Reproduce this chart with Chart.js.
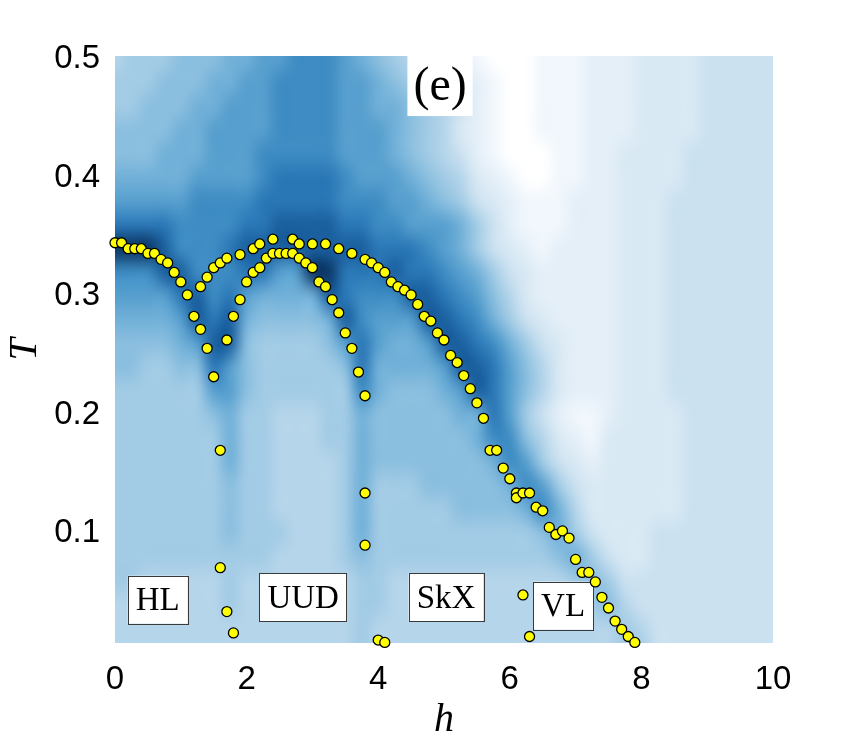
<!DOCTYPE html>
<html>
<head>
<meta charset="utf-8">
<script src="https://cdn.jsdelivr.net/npm/chart.js@4.4.1/dist/chart.umd.min.js"></script>
<style>
  body { margin: 0; background: #fff; }
  canvas { display: block; }
</style>
</head>
<body>
<canvas id="phaseChart" width="854" height="750"></canvas>
<script>
// Phase boundary points (h, T)
const hlH = [0, 0.1, 0.2, 0.3, 0.4, 0.5, 0.6, 0.7, 0.8, 0.9, 1.0, 1.1, 1.2, 1.3, 1.4, 1.5, 1.6, 1.6, 1.7, 1.8];
const hlT = [0.345, 0.345, 0.340, 0.340, 0.340, 0.336, 0.336, 0.331, 0.328, 0.320, 0.312, 0.301, 0.283, 0.272, 0.256, 0.232, 0.170, 0.071, 0.034, 0.016];

const outerH = [1.3, 1.4, 1.5, 1.6, 1.7, 1.9, 2.1, 2.2, 2.4, 2.7, 2.8, 3.0, 3.2, 3.4, 3.6, 3.8, 3.9, 4.0, 4.1, 4.2,
                4.3, 4.4, 4.5, 4.6, 4.7, 4.8, 4.9, 5.0, 5.1, 5.2, 5.3, 5.4, 5.5, 5.6, 5.7, 5.8, 5.9, 6.0, 6.1, 6.1,
                6.2, 6.3, 6.4, 6.5, 6.6, 6.7, 6.8, 6.9, 7.0, 7.1, 7.2, 7.3, 7.4, 7.5, 7.6, 7.7, 7.8, 7.9];
const outerT = [0.308, 0.316, 0.324, 0.328, 0.332, 0.335, 0.340, 0.344, 0.348, 0.348, 0.344, 0.344, 0.344, 0.340, 0.336, 0.331, 0.328, 0.324, 0.320, 0.312,
                0.308, 0.305, 0.301, 0.293, 0.283, 0.279, 0.269, 0.263, 0.250, 0.244, 0.233, 0.222, 0.210, 0.197, 0.170, 0.170, 0.155, 0.146, 0.134, 0.130,
                0.134, 0.134, 0.122, 0.119, 0.105, 0.099, 0.102, 0.096, 0.078, 0.067, 0.067, 0.059, 0.046, 0.037, 0.026, 0.019, 0.013, 0.008];

const innerH = [1.7, 1.8, 1.9, 2.0, 2.1, 2.2, 2.3, 2.4, 2.5, 2.6, 2.7, 2.8, 2.9, 3.0, 3.1, 3.2, 3.3, 3.4, 3.5, 3.6, 3.7, 3.8, 3.8, 3.8, 4.0, 4.1];
const innerT = [0.263, 0.283, 0.297, 0.312, 0.320, 0.324, 0.332, 0.336, 0.336, 0.336, 0.336, 0.332, 0.328, 0.324, 0.312, 0.308, 0.297, 0.286, 0.269, 0.256, 0.236, 0.216, 0.134, 0.090, 0.010, 0.008];

const vlH = [6.2, 6.3];
const vlT = [0.048, 0.013];

// Axis ticks
const xTicks = [0, 2, 4, 6, 8, 10];
const yTicks = [0.1, 0.2, 0.3, 0.4, 0.5];

// Phase labels
const phaseNames = ["HL", "UUD", "SkX", "VL"];
const phaseH = [0.65, 2.86, 5.03, 6.81];
const phaseT = [0.044, 0.046, 0.046, 0.039];
const panelTag = "(e)";

// Background intensity map (levels 0-d), rows from T=0.50 down to T=0.00
const hCols = [0, 0.25, 0.5, 0.75, 1, 1.25, 1.5, 1.75, 2, 2.25, 2.5, 2.75, 3, 3.25, 3.5, 3.75, 4, 4.25, 4.5, 4.75,
               5, 5.25, 5.5, 5.75, 6, 6.25, 6.5, 6.75, 7, 7.25, 7.5, 7.75, 8, 8.25, 8.5, 8.75, 9, 9.25, 9.5, 9.75, 10];
const tRows = [0.50, 0.48, 0.46, 0.44, 0.42, 0.40, 0.38, 0.36, 0.34, 0.32, 0.30, 0.28, 0.26,
               0.24, 0.22, 0.20, 0.18, 0.16, 0.14, 0.12, 0.10, 0.08, 0.06, 0.04, 0.02, 0.00];
const heatRows = [
  "5666777889 9aaa987654 3210001112 22333344444",
  "6667778899 aaaa998765 4321001112 22333344444",
  "6677788999 aaaa998876 5421001112 22333344444",
  "7777889999 aaaa999876 5321001112 22333344444",
  "777888999a aaaa999876 5421000112 23333444444",
  "888889999a bbbba99987 6532100112 23333444444",
  "99999aaaab bbbbaaa998 7643211122 23334444444",
  "bbbbaaaabb ccccbbaa99 9864211122 23334444444",
  "dddcaaabcc ccccccbbba 9864321222 23334444444",
  "aaaccaaabb 99ddbbbcbb a986432222 23334444444",
  "9999bcab98 888cbaaacc ba97532222 23334444444",
  "88889cbc87 7778ca999c cba8643222 23334444444",
  "777789cc76 66679b9889 ccba864322 23334444444",
  "776677b976 66667b8888 9ccb975322 23334444444",
  "6666669976 66666a8777 89cb975322 23334444444",
  "6666667866 5556687777 788b964211 23333444444",
  "6666666866 5556687777 778aa75321 33333444444",
  "6666666866 5555687777 7778a96432 33333444444",
  "6666666766 5555686667 77778a9643 33333444444",
  "6666666766 5555686666 677778a853 33333444444",
  "6666666766 6555686666 6666667864 33344444444",
  "6666666666 5555676666 6666666786 43344444444",
  "6655555655 5555566555 5555555567 64444444444",
  "5555555655 5555566555 5555555556 75444444444",
  "5555555555 5555565555 5555555555 56544444444",
  "5555555555 5555565555 5555555555 56644444444"
];
const heatColors = ["#ffffff", "#f1f7fc", "#e4eff8", "#d9e9f4", "#cbe1f0", "#b5d5ea", "#a2cbe5",
                    "#8bbfdf", "#71b0d8", "#579fce", "#3e8cc3", "#2a77b6", "#1a5f9e", "#0b3563"];


function hexToRgb(hex) {
    const n = parseInt(hex.slice(1), 16);
    return [(n >> 16) & 255, (n >> 8) & 255, n & 255];
}

function zip(hs, ts) {
    return hs.map((h, i) => ({ x: h, y: ts[i] }));
}

const points = [].concat(zip(hlH, hlT), zip(outerH, outerT), zip(innerH, innerT), zip(vlH, vlT));


// Heatmap + labels drawn under the points
const backgroundPlugin = {
    id: "background",
    beforeDatasetsDraw(chart) {
        const { ctx, chartArea, scales } = chart;
        const xs = scales.x, ys = scales.y;

        const off = document.createElement("canvas");
        off.width = hCols.length;
        off.height = tRows.length;
        const octx = off.getContext("2d");
        const img = octx.createImageData(off.width, off.height);
        heatRows.forEach((row, j) => {
            const cells = row.replace(/ /g, "");
            for (let i = 0; i < off.width; i++) {
                const rgb = hexToRgb(heatColors[parseInt(cells[i] || "5", 16)]);
                const k = (j * off.width + i) * 4;
                img.data[k] = rgb[0];
                img.data[k + 1] = rgb[1];
                img.data[k + 2] = rgb[2];
                img.data[k + 3] = 255;
            }
        });
        octx.putImageData(img, 0, 0);

        const dh = (hCols[1] - hCols[0]) / 2;
        const dt = (tRows[0] - tRows[1]) / 2;
        const left = xs.getPixelForValue(hCols[0] - dh);
        const right = xs.getPixelForValue(hCols[hCols.length - 1] + dh);
        const top = ys.getPixelForValue(tRows[0] + dt);
        const bottom = ys.getPixelForValue(tRows[tRows.length - 1] - dt);

        ctx.save();
        ctx.beginPath();
        ctx.rect(chartArea.left, chartArea.top, chartArea.width, chartArea.height);
        ctx.clip();
        ctx.imageSmoothingEnabled = true;
        ctx.imageSmoothingQuality = "high";
        ctx.drawImage(off, left, top, right - left, bottom - top);

        // panel tag
        ctx.font = "48px 'Liberation Serif'";
        ctx.textAlign = "center";
        ctx.textBaseline = "middle";
        const tx = xs.getPixelForValue(4.94);
        const ty = ys.getPixelForValue(0.478);
        const tw = ctx.measureText(panelTag).width + 12;
        ctx.fillStyle = "#fff";
        ctx.fillRect(tx - tw / 2, chartArea.top, tw, ty + 31 - chartArea.top);
        ctx.fillStyle = "#000";
        ctx.fillText(panelTag, tx, ty + 2);
        ctx.restore();

        // phase boxes
        ctx.save();
        ctx.font = "33px 'Liberation Serif'";
        ctx.textAlign = "center";
        ctx.textBaseline = "middle";
        phaseNames.forEach((name, i) => {
            const px = xs.getPixelForValue(phaseH[i]);
            const py = ys.getPixelForValue(phaseT[i]);
            const w = ctx.measureText(name).width + 16;
            const h = 48;
            ctx.fillStyle = "#fff";
            ctx.fillRect(px - w / 2, py - h / 2, w, h);
            ctx.strokeStyle = "#3a3a3a";
            ctx.lineWidth = 1;
            ctx.strokeRect(Math.round(px - w / 2) + 0.5, Math.round(py - h / 2) + 0.5, Math.round(w), h);
            ctx.fillStyle = "#000";
            ctx.fillText(name, px, py + 2);
        });
        ctx.restore();
    }
};


// Chart
const chart = new Chart(document.getElementById("phaseChart"), {

    type: "scatter",

    data: {
        datasets: [{
            data: points,
            pointRadius: 5,
            pointBackgroundColor: "#ffff00",
            pointBorderColor: "#000000",
            pointBorderWidth: 1.3,
            clip: false
        }]
    },

    options: {
        responsive: false,
        animation: false,
        layout: { padding: { left: 0, top: 56, right: 81, bottom: 0 } },
        plugins: {
            legend: { display: false },
            tooltip: { enabled: false }
        },
        scales: {
            x: {
                type: "linear",
                min: 0,
                max: 10,
                grid: { display: false, drawTicks: false },
                border: { display: false },
                afterBuildTicks: (s) => { s.ticks = xTicks.map(v => ({ value: v })); },
                afterFit: (s) => { s.height = 107; },
                ticks: {
                    color: "#000",
                    padding: 17,
                    font: { family: "'Liberation Sans', Arial", size: 33 },
                    callback: (v) => String(v)
                },
                title: {
                    display: true,
                    text: "h",
                    color: "#000",
                    font: { family: "'Liberation Serif'", style: "italic", size: 40 },
                    padding: { top: 0, bottom: 6 }
                }
            },
            y: {
                type: "linear",
                min: 0.0075,
                max: 0.5025,
                grid: { display: false, drawTicks: false },
                border: { display: false },
                afterBuildTicks: (s) => { s.ticks = yTicks.map(v => ({ value: v })); },
                afterFit: (s) => { s.width = 115; },
                ticks: {
                    color: "#000",
                    padding: 15,
                    font: { family: "'Liberation Sans', Arial", size: 33 },
                    callback: (v) => v.toFixed(1)
                },
                title: {
                    display: true,
                    text: "T",
                    color: "#000",
                    font: { family: "'Liberation Serif'", style: "italic", size: 40 },
                    padding: { top: 1, bottom: 0 }
                }
            }
        }
    },

    plugins: [backgroundPlugin]

});
</script>
</body>
</html>
